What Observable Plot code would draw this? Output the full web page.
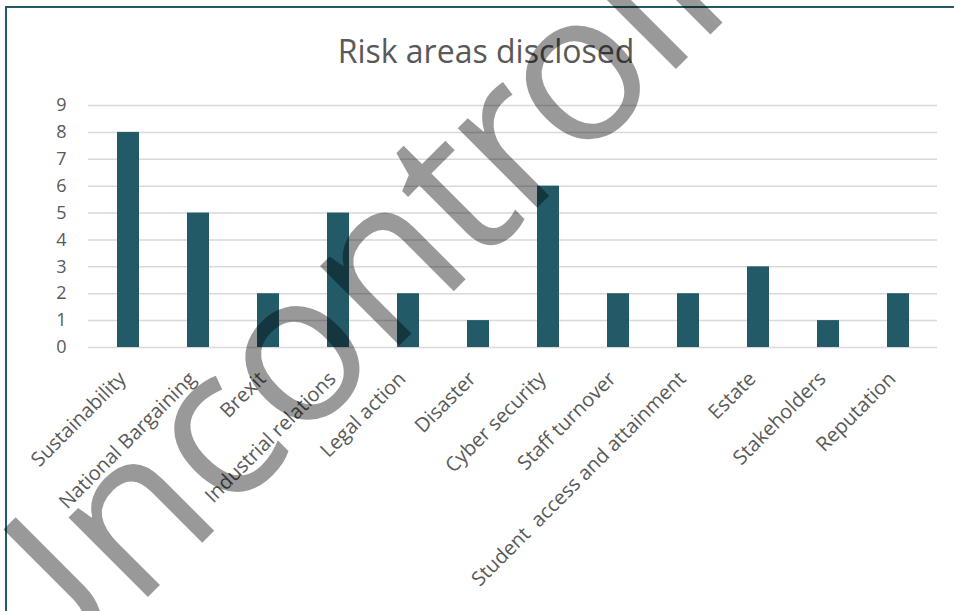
<!DOCTYPE html>
<html>
<head>
<meta charset="utf-8">
<script src="https://cdn.jsdelivr.net/npm/d3@7"></script>
<script src="https://cdn.jsdelivr.net/npm/@observablehq/plot@0.6"></script>
<style>
  html, body { margin: 0; padding: 0; background: #fff; }
  body { width: 954px; height: 611px; overflow: hidden; position: relative; }
  #frame { position: absolute; left: 5px; top: 6px; width: 1100px; height: 800px;
           border-left: 2px solid #215a69; border-top: 2px solid #215a69; box-sizing: border-box; }
  #title { position: absolute; left: 0; top: 35px; width: 972px; text-align: center;
           font-family: 'Open Sans', sans-serif; font-size: 32px; line-height: 1; color: #595959; }
  #chart { position: absolute; left: 0; top: 80px; }
  #chart svg text { font-family: 'Open Sans', sans-serif; }
  #wm { position: absolute; left: 0; top: 0; pointer-events: none; }
</style>
</head>
<body>
<div id="frame"></div>
<div id="title">Risk areas disclosed</div>
<div id="chart"></div>
<svg id="wm" width="954" height="611"></svg>
<script>
const categories = ["Sustainability", "National Bargaining", "Brexit", "Industrial relations", "Legal action", "Disaster", "Cyber security", "Staff turnover", "Student  access and attainment", "Estate", "Stakeholders", "Reputation"];
const values = [8, 5, 2, 5, 2, 1, 6, 2, 2, 3, 1, 2];
const yTicks = [0, 1, 2, 3, 4, 5, 6, 7, 8, 9];
const watermarkText = "Uncontrolled";

const data = categories.map((c, i) => ({category: c, value: values[i]}));

const chart = Plot.plot({
  width: 954,
  height: 531,
  marginTop: 25,
  marginBottom: 264,
  marginLeft: 88,
  marginRight: 17,
  style: {fontFamily: "'Open Sans', sans-serif", color: "#595959", background: "transparent"},
  x: {domain: categories, paddingInner: 0.69, paddingOuter: 0.345, label: null},
  y: {domain: [0, 9], label: null},
  marks: [
    Plot.ruleY(yTicks, {stroke: "#d9d9d9", strokeWidth: 1.5, strokeOpacity: 1}),
    Plot.barY(data, {x: "category", y: "value", fill: "#225a68"}),
    Plot.axisY({ticks: yTicks, tickSize: 0, tickPadding: 22, fontSize: 18, label: null, tickFormat: d => d}),
    Plot.axisX({tickSize: 0, tickPadding: 28, dx: -6, tickRotate: -45, fontSize: 20, label: null,
                tickFormat: d => d.replace(/  /g, "\u00a0 ")})
  ]
});
document.getElementById("chart").appendChild(chart);

d3.select("#wm").append("text")
  .attr("transform", "translate(27,718) rotate(-45)")
  .attr("text-anchor", "start")
  .attr("dx", "0 0 0 0 0 -3 -6 -10 -6 -4 0 0")
  .attr("font-family", "'Open Sans', sans-serif")
  .attr("font-size", 210)
  .attr("fill", "#000")
  .attr("fill-opacity", 0.4)
  .text(watermarkText);
</script>
</body>
</html>
